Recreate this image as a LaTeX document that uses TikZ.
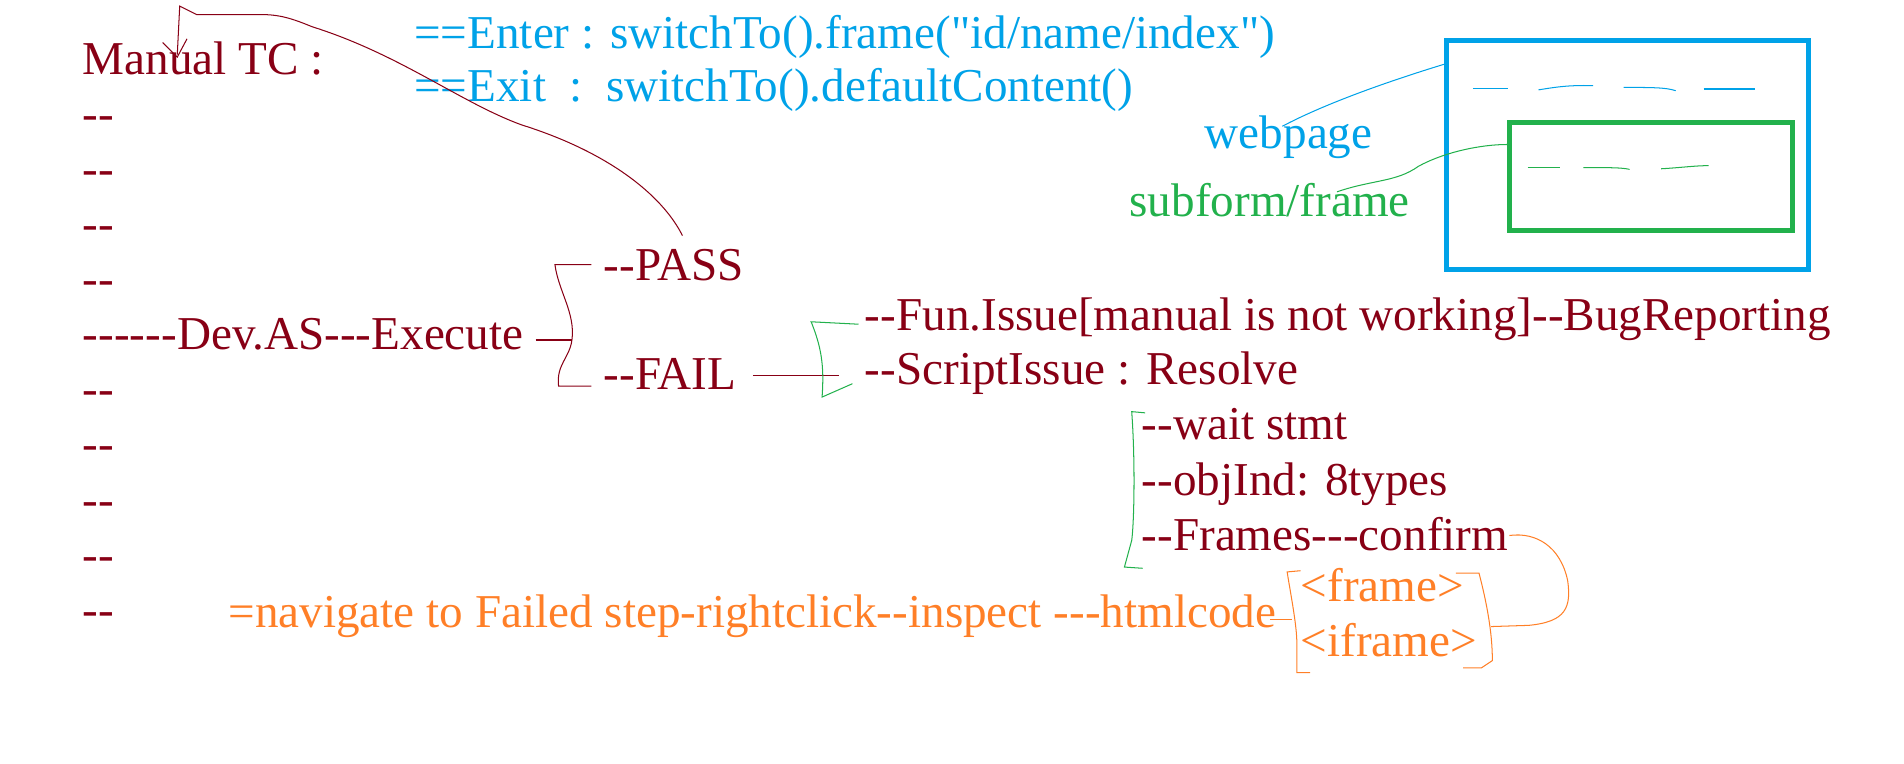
\documentclass[tikz,border=0pt]{standalone}
\usepackage{fontspec}
\setmainfont{Liberation Serif}[Ligatures=TeXOff]
\usepackage{tikz}
\usetikzlibrary{arrows.meta}
\definecolor{darkred}{HTML}{880015}
\definecolor{skyblue}{HTML}{00A2E8}
\definecolor{leafgreen}{HTML}{22B14C}
\definecolor{paintorange}{HTML}{FF7F27}

\begin{document}
\begin{tikzpicture}[x=0.025cm, y=-0.025cm,
  txt/.style={anchor=base west, inner sep=0pt, font=\fontsize{27.6}{33}\selectfont},
  hand/.style={line width=0.6pt},
  boxline/.style={line width=2.9pt}]
\useasboundingbox (0,0) rectangle (1568,629);
% -- left column --
\node[txt, darkred] (manual) at (68,61) {Manual TC :};
\foreach \k in {1,2,3,4,6,7,8,9,10}
  \node[txt, darkred] (row\k) at (68,{288+45.4*(\k-5)}) {--};
\node[txt, darkred] (dev) at (68,288) {------Dev.AS---Execute};
% -- enter / exit --
\node[txt, skyblue] (enter) at (341,40) {==Enter : switchTo().frame("id/name/index")};
\node[txt, skyblue] (exit) at (341,84) {==Exit\ \ :\ \ switchTo().defaultContent()};
% -- pass / fail --
\node[txt, darkred] (pass) at (497,231) {--PASS};
\node[txt, darkred] (fail) at (497,321) {--FAIL};
\node[txt, darkred] (funissue) at (712,272) {--Fun.Issue[manual is not working]--BugReporting};
\node[txt, darkred] (scriptissue) at (712,317) {--ScriptIssue : Resolve};
\node[txt, darkred] (wait) at (940,362) {--wait stmt};
\node[txt, darkred] (objind) at (940,408) {--objInd: 8types};
\node[txt, darkred] (frames) at (940,453) {--Frames---confirm};
% -- html code --
\node[txt, paintorange] (navigate) at (188,517) {=navigate to Failed step-rightclick--inspect ---htmlcode};
\node[txt, paintorange] (tagframe) at (1071,495) {<frame>};
\node[txt, paintorange] (tagiframe) at (1071,541) {<iframe>};
% -- webpage sketch --
\node[txt, skyblue] (webpage) at (992,122) {webpage};
\node[txt, leafgreen] (subform) at (930,178) {subform/frame};
\draw[boxline, skyblue] (1191,33) rectangle (1489,222);
\draw[boxline, leafgreen] (1243,101) rectangle (1476,190);
\draw[hand, skyblue] (1213,73) to (1242,73);
\draw[hand, skyblue] (1267,74) .. controls (1280,72) and (1290,70) .. (1312,70.5);
\draw[hand, skyblue] (1337,72) .. controls (1360,72) and (1372,72) .. (1380,74.7);
\draw[hand, skyblue] (1403,73.3) to (1445,73.3);
\draw[hand, leafgreen] (1258,138) to (1285,138);
\draw[hand, leafgreen] (1304,138) .. controls (1325,138) and (1336,138) .. (1342,139.5);
\draw[hand, leafgreen] (1368,139) .. controls (1385,138) and (1395,136.5) .. (1407,136.4);
\draw[hand, skyblue] (1056,104) .. controls (1090,86) and (1140,68) .. (1189,53);
\draw[hand, leafgreen] (1101,158) .. controls (1130,148) and (1150,150) .. (1168,137) .. controls (1190,125) and (1220,119) .. (1241,119);
% -- brackets --
\draw[hand, darkred] (562,194) .. controls (545,160) and (500,125) .. (430,103) .. controls (380,85) and (330,45) .. (257,22) .. controls (240,15) and (230,12) .. (215,12) -- (162,12) -- (148,5) -- (146,45);
\draw[hand, darkred] (134,35) -- (146,47) -- (154,32);
\draw[hand, darkred] (441,280) -- (471,280);
\draw[hand, darkred] (487,218) -- (457,218) .. controls (460,240) and (474,258) .. (471,280) .. controls (469,295) and (458,300) .. (460,318) -- (487,318);
\draw[hand, darkred] (620,309) -- (691,309);
\draw[hand, leafgreen] (707,267) -- (668,265) .. controls (676,285) and (679,300) .. (677,327) -- (702,316);
\draw[hand, leafgreen] (943,340) -- (932,339) .. controls (935,380) and (934,430) .. (932,445) -- (926,467) -- (941,468);
\draw[hand, paintorange] (1046,510) -- (1064,510);
\draw[hand, paintorange] (1071,470) -- (1060,471) .. controls (1063,490) and (1068,515) .. (1068,530) -- (1068,554) -- (1079,554);
\draw[hand, paintorange] (1199,472) -- (1218,472) .. controls (1224,495) and (1229,520) .. (1229,544) -- (1220,550) -- (1205,550);
\draw[hand, paintorange] (1243,441) .. controls (1265,438) and (1285,450) .. (1291,478) .. controls (1294,500) and (1290,512) .. (1259,515) -- (1228,516);
\end{tikzpicture}
\end{document}
